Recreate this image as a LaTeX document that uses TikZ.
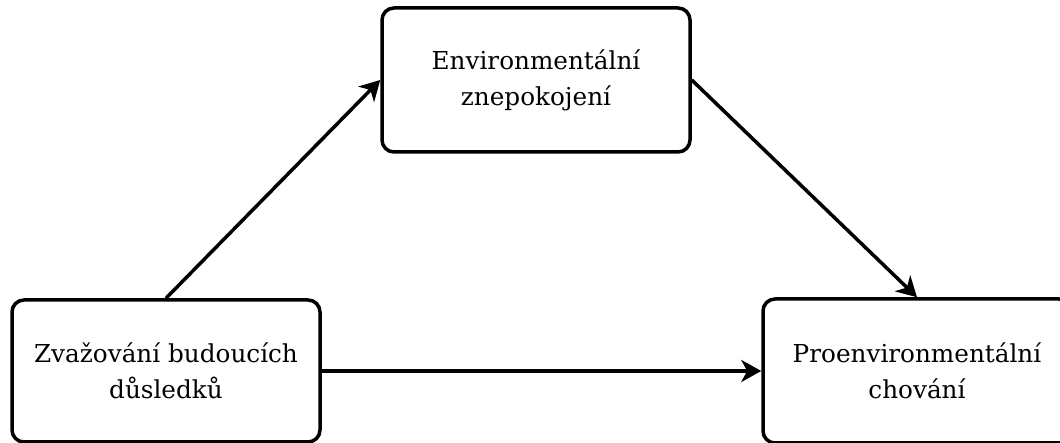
\documentclass[tikz,border=0pt]{standalone}
\usepackage{fontspec}
\setmainfont{DejaVu Serif}
\usetikzlibrary{arrows.meta}
\begin{document}
\begin{tikzpicture}[x=1pt,y=1pt,
  box/.style={draw, line width=3.5pt, rounded corners=12pt, minimum width=308pt, minimum height=144pt, align=center, font=\fontsize{24.7}{36}\selectfont, inner sep=0pt},
  conn/.style={line width=3.5pt, -{Stealth[length=20pt,width=22pt,inset=6pt]}}]
\useasboundingbox (0,0) rectangle (1060,443);
\node[box] (env) at (536,363) {Environmentální\\znepokojení};
\node[box, minimum height=142pt] (zva) at (166,72) {Zvažování budoucích\\důsledků};
\node[box] (pro) at (917,72) {Proenvironmentální\\chování};
\draw[conn] (zva.north) -- (env.west);
\draw[conn] (env.east) -- (pro.north);
\draw[conn] (zva.east) -- (pro.west);
\end{tikzpicture}
\end{document}
